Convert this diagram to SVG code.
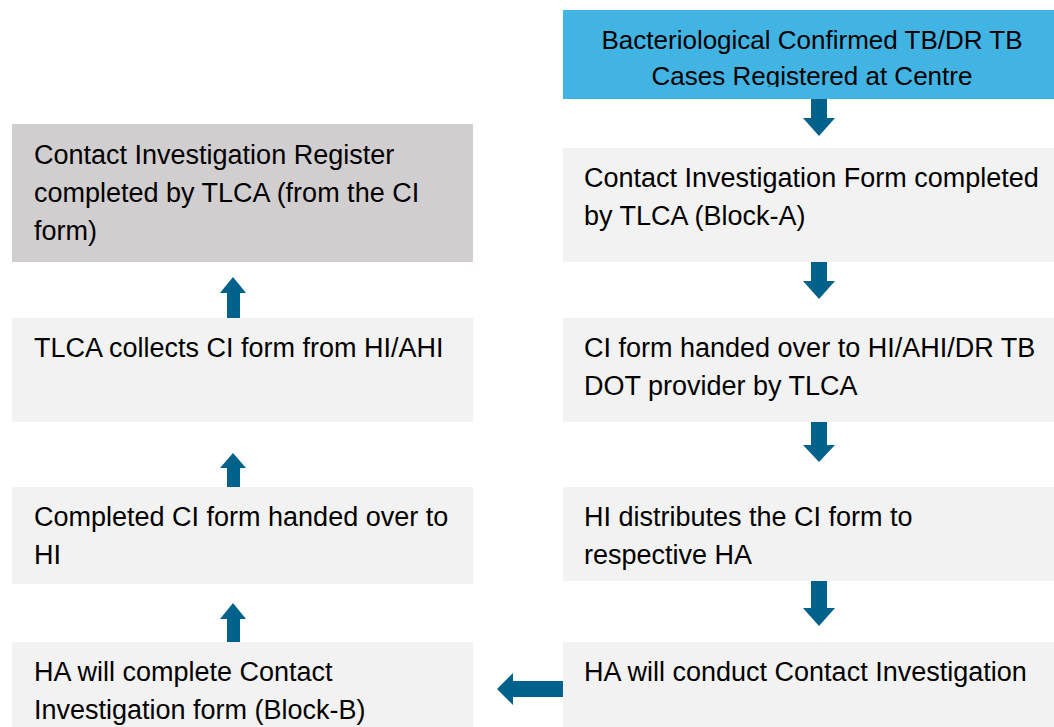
<svg xmlns="http://www.w3.org/2000/svg" width="1054" height="727" viewBox="0 0 1054 727">
  <style>
    .t { font-family: "Liberation Sans", Arial, sans-serif; font-size: 27px; fill: #000; }
    .tt { font-family: "Liberation Sans", Arial, sans-serif; font-size: 26px; fill: #000; text-anchor: middle; }
    .box { fill: #f2f2f2; }
    .arrow { fill: #00628b; }
  </style>
  <defs>
    <clipPath id="topclip"><rect x="563" y="10" width="491" height="77"/></clipPath>
  </defs>
  <rect width="1054" height="727" fill="#ffffff"/>

  <g id="n-top">
    <rect x="563" y="10" width="491" height="89" fill="#42b4e4"/>
    <g clip-path="url(#topclip)">
      <text class="tt" x="812" y="49">Bacteriological Confirmed TB/DR TB</text>
      <text class="tt" x="812" y="85">Cases Registered at Centre</text>
    </g>
  </g>

  <g id="n-form-a">
    <rect class="box" x="563" y="148" width="491" height="114"/>
    <text class="t" x="584" y="187">Contact Investigation Form completed</text>
    <text class="t" x="584" y="225">by TLCA (Block-A)</text>
  </g>

  <g id="n-handover">
    <rect class="box" x="563" y="318" width="491" height="104"/>
    <text class="t" x="584" y="357">CI form handed over to HI/AHI/DR TB</text>
    <text class="t" x="584" y="395">DOT provider by TLCA</text>
  </g>

  <g id="n-distribute">
    <rect class="box" x="563" y="487" width="491" height="94"/>
    <text class="t" x="584" y="526">HI distributes the CI form to</text>
    <text class="t" x="584" y="564">respective HA</text>
  </g>

  <g id="n-conduct">
    <rect class="box" x="563" y="642" width="491" height="85"/>
    <text class="t" x="584" y="681">HA will conduct Contact Investigation</text>
  </g>

  <g id="n-block-b">
    <rect class="box" x="12" y="642" width="461" height="85"/>
    <text class="t" x="34" y="681">HA will complete Contact</text>
    <text class="t" x="34" y="719">Investigation form (Block-B)</text>
  </g>

  <g id="n-completed">
    <rect class="box" x="12" y="487" width="461" height="97"/>
    <text class="t" x="34" y="526">Completed CI form handed over to</text>
    <text class="t" x="34" y="564">HI</text>
  </g>

  <g id="n-collects">
    <rect class="box" x="12" y="318" width="461" height="104"/>
    <text class="t" x="34" y="357">TLCA collects CI form from HI/AHI</text>
  </g>

  <g id="n-register">
    <rect x="12" y="124" width="461" height="138" fill="#d0cece"/>
    <text class="t" x="34" y="164">Contact Investigation Register</text>
    <text class="t" x="34" y="202">completed by TLCA (from the CI</text>
    <text class="t" x="34" y="240">form)</text>
  </g>

  <g id="connectors">
    <polygon class="arrow" points="811,99 827,99 827,118 835,118 819,136 803,118 811,118"/>
    <polygon class="arrow" points="811,262 827,262 827,281 835,281 819,299 803,281 811,281"/>
    <polygon class="arrow" points="811,422 827,422 827,445 835,445 819,462 803,445 811,445"/>
    <polygon class="arrow" points="811,581 827,581 827,608 835,608 819,626 803,608 811,608"/>
    <polygon class="arrow" points="563,681 563,697 513,697 513,705 497,689 513,673 513,681"/>
    <polygon class="arrow" points="227,642 240,642 240,619 246,619 233,603 220,619 227,619"/>
    <polygon class="arrow" points="227,487 240,487 240,468 246,468 233,453 220,468 227,468"/>
    <polygon class="arrow" points="227,318 240,318 240,293 246,293 233,277 220,293 227,293"/>
  </g>
</svg>
